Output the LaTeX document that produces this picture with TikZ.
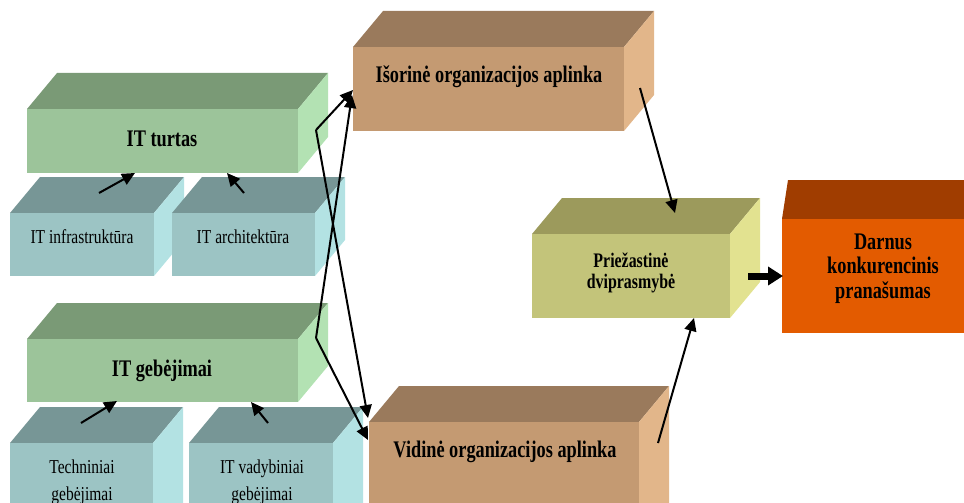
\documentclass[tikz,border=0pt]{standalone}
\usepackage{fontspec}
\setmainfont{Liberation Serif}
\usepackage{graphicx}
\usetikzlibrary{arrows.meta}
\definecolor{gF}{HTML}{9CC49A}\definecolor{gT}{HTML}{7A9A76}\definecolor{gS}{HTML}{B3E2B3}
\definecolor{bF}{HTML}{9CC4C4}\definecolor{bT}{HTML}{779696}\definecolor{bS}{HTML}{B3E2E3}
\definecolor{rF}{HTML}{C49A72}\definecolor{rT}{HTML}{9A7A5C}\definecolor{rS}{HTML}{E2B68A}
\definecolor{oF}{HTML}{C3C47A}\definecolor{oT}{HTML}{9C9A5C}\definecolor{oS}{HTML}{E2E290}
\definecolor{dF}{HTML}{E35B00}\definecolor{dT}{HTML}{A03D00}
\newcommand\vs[1]{\scalebox{1}[1.3]{#1}}
\newcommand\vst[1]{\scalebox{1}[1.3]{\begin{tabular}[t]{@{}c@{}}#1\end{tabular}}}
\newcommand\vsr[1]{\scalebox{1}[1.27]{#1}}
\newcommand\vstr[1]{\scalebox{1}[1.27]{\begin{tabular}[t]{@{}c@{}}#1\end{tabular}}}
% name, x1, y1, x2, y2, front, top, side
\newcommand\cuboid[8]{%
  \fill[#7] (#2,#3) -- (#2+30,#3-36) -- (#4+30,#3-36) -- (#4,#3) -- cycle;
  \fill[#8] (#4,#3) -- (#4+30,#3-36) -- (#4+30,#5-36) -- (#4,#5) -- cycle;
  \node[front, fill=#6, minimum width={(#4-#2)*1pt}, minimum height={(#5-#3)*1pt}] (#1) at (#2,#3) {};
}
\begin{document}
\begin{tikzpicture}[x=1pt,y=-1pt,
  front/.style={draw=none, inner sep=0pt, outer sep=0pt, anchor=north west},
  tb/.style={font=\fontsize{18.3}{19.2}\selectfont\bfseries, inner sep=0pt, anchor=base},
  tbs/.style={font=\fontsize{15.9}{16.2}\selectfont\bfseries, inner sep=0pt, anchor=base},
  tr/.style={font=\fontsize{15.5}{21.3}\selectfont, inner sep=0pt, anchor=base},
  arr/.style={line width=2pt, -{Triangle[length=13pt,width=12pt]}},
  fat/.style={line width=7pt, -{Triangle[length=15pt,width=18pt]}}]
\useasboundingbox (0,0) rectangle (964,503);
\clip (0,0) rectangle (964,502);

\cuboid{turtas}{27}{109}{298}{173}{gF}{gT}{gS}
\cuboid{infra}{10}{213}{154}{276}{bF}{bT}{bS}
\cuboid{archi}{172}{213}{315}{276}{bF}{bT}{bS}
\cuboid{gebej}{27}{339}{298}{402}{gF}{gT}{gS}
\cuboid{techn}{10}{443}{153}{540}{bF}{bT}{bS}
\cuboid{vadyb}{189}{443}{333}{540}{bF}{bT}{bS}
\cuboid{isor}{353}{47}{624}{131}{rF}{rT}{rS}
\cuboid{vidin}{369}{422}{639}{560}{rF}{rT}{rS}
\cuboid{priez}{532}{234}{730}{318}{oF}{oT}{oS}
\fill[dT] (782,219) -- (788,180) -- (1000,180) -- (1000,219) -- cycle;
\node[front, fill=dF, minimum width=220pt, minimum height=114pt] (darn) at (782,219) {};

\node[tb] (tturtas) at (162,146) {\vs{IT turtas}};
\node[tr] (tinfra) at (82,243) {\vsr{IT infrastruktūra}};
\node[tr] (tarchi) at (243,243) {\vsr{IT architektūra}};
\node[tb] (tgebej) at (162,376) {\vs{IT gebėjimai}};
\node[tr] (ttechn) at (82,473) {\vstr{Techniniai\\gebėjimai}};
\node[tr] (tvadyb) at (262,473) {\vstr{IT vadybiniai\\gebėjimai}};
\node[tb] (tisor) at (489,83) {\vs{Išorinė organizacijos aplinka}};
\node[tb] (tvidin) at (505,457) {\vs{Vidinė organizacijos aplinka}};
\node[tbs] (tpriez) at (631,267) {\vst{Priežastinė\\dviprasmybė}};
\node[tb] (tdarn) at (883,249) {\vst{Darnus\\konkurencinis\\pranašumas}};

\coordinate (a1s) at (99,193);  \coordinate (a1e) at (135,173);
\coordinate (a2s) at (244,193); \coordinate (a2e) at (227,173);
\coordinate (a3s) at (81,423);  \coordinate (a3e) at (117,401);
\coordinate (a4s) at (268,423); \coordinate (a4e) at (251,402);
\coordinate (c1) at (316,130);  \coordinate (c2) at (316,338);
\coordinate (isA) at (353,90);  \coordinate (isB) at (352,95);
\coordinate (viA) at (368,418); \coordinate (viB) at (368,440);
\coordinate (isOut) at (640,88);  \coordinate (prIn1) at (675,213);
\coordinate (viOut) at (658,443); \coordinate (prIn2) at (694,318);
\coordinate (prOut) at (748,276); \coordinate (daIn) at (783,276);

\draw[arr] (a1s) -- (a1e);
\draw[arr] (a2s) -- (a2e);
\draw[arr] (a3s) -- (a3e);
\draw[arr] (a4s) -- (a4e);
\draw[arr] (c1) -- (isA);
\draw[arr] (c1) -- (viA);
\draw[arr] (c2) -- (isB);
\draw[arr] (c2) -- (viB);
\draw[arr] (isOut) -- (prIn1);
\draw[arr] (viOut) -- (prIn2);
\draw[fat] (prOut) -- (daIn);
\end{tikzpicture}
\end{document}
